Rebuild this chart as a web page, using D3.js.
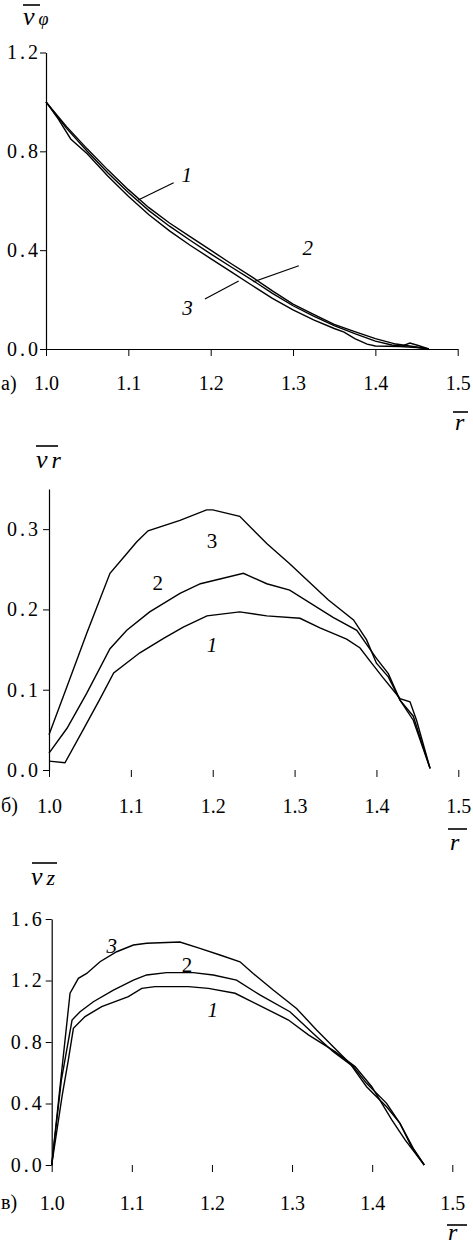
<!DOCTYPE html>
<html>
<head>
<meta charset="utf-8">
<script src="https://cdn.jsdelivr.net/npm/d3@7"></script>
<style>
  body { margin: 0; background: #fff; }
  svg { display: block; }
  svg text { font-family: "Liberation Serif", "Times New Roman", Times, Tinos, "DejaVu Serif", "Noto Serif", serif; }
</style>
</head>
<body>
<div id="body"></div>
<script>
// x ticks shared by all three panels
var rTicks = [1.0, 1.1, 1.2, 1.3, 1.4, 1.5];

// panel a) - v_phi
var phiTicks = [0.0, 0.4, 0.8, 1.2];
var phi1 = [[1.0,1.0],[1.025,0.90],[1.05,0.81],[1.075,0.725],[1.1,0.645],[1.125,0.572],[1.15,0.51],[1.175,0.455],[1.2,0.40],[1.225,0.345],[1.25,0.292],[1.275,0.235],[1.3,0.182],[1.325,0.14],[1.35,0.10],[1.375,0.07],[1.4,0.042],[1.425,0.02],[1.45,0.008],[1.465,0]];
var phi2 = [[1.0,1.0],[1.025,0.893],[1.05,0.80],[1.075,0.713],[1.1,0.633],[1.125,0.56],[1.15,0.497],[1.175,0.44],[1.2,0.385],[1.225,0.332],[1.25,0.28],[1.275,0.225],[1.3,0.175],[1.325,0.133],[1.35,0.095],[1.375,0.062],[1.4,0.032],[1.42,0.016],[1.432,0.012],[1.442,0.024],[1.452,0.014],[1.465,0]];
var phi3 = [[1.0,1.0],[1.015,0.93],[1.03,0.85],[1.05,0.79],[1.075,0.70],[1.1,0.618],[1.125,0.543],[1.15,0.478],[1.175,0.42],[1.2,0.366],[1.225,0.312],[1.25,0.258],[1.275,0.205],[1.3,0.158],[1.325,0.118],[1.35,0.083],[1.362,0.068],[1.375,0.042],[1.39,0.02],[1.4,0.012],[1.43,0.01],[1.45,0.006],[1.465,0]];
var phiNotes = [
  {t:"1", r:1.171, v:0.676, from:[1.112,0.603], to:[1.155,0.673]},
  {t:"2", r:1.318, v:0.380, from:[1.307,0.337], to:[1.252,0.272]},
  {t:"3", r:1.172, v:0.137, from:[1.193,0.202], to:[1.234,0.275]}
];

// panel б) - v_r
var vrTicks = [0.0, 0.1, 0.2, 0.3];
var vr1 = [[1.0,0.011],[1.0195,0.009],[1.042,0.0505],[1.062,0.088],[1.079,0.121],[1.111,0.146],[1.14,0.164],[1.164,0.178],[1.193,0.192],[1.233,0.197],[1.266,0.192],[1.3066,0.189],[1.331,0.177],[1.3636,0.163],[1.38,0.152],[1.392,0.136],[1.408,0.115],[1.4288,0.089],[1.441,0.085],[1.449,0.062],[1.4655,0.002]];
var vr2 = [[1.0,0.021],[1.022,0.052],[1.046,0.0955],[1.0745,0.151],[1.095,0.174],[1.123,0.197],[1.16,0.220],[1.185,0.232],[1.2375,0.245],[1.266,0.232],[1.294,0.224],[1.347,0.19],[1.376,0.174],[1.40,0.139],[1.4145,0.120],[1.4288,0.087],[1.445,0.062],[1.4655,0.002]];
var vr3 = [[1.0,0.044],[1.022,0.104],[1.046,0.170],[1.0745,0.245],[1.092,0.266],[1.107,0.284],[1.121,0.298],[1.16,0.311],[1.1925,0.324],[1.2,0.324],[1.233,0.316],[1.266,0.282],[1.294,0.257],[1.341,0.212],[1.372,0.187],[1.388,0.162],[1.40,0.133],[1.4145,0.116],[1.4288,0.087],[1.445,0.067],[1.4655,0.002]];
var vrNotes = [
  {t:"3", r:1.199, v:0.2765, up:true},
  {t:"2", r:1.133, v:0.2242, up:true},
  {t:"1", r:1.199, v:0.147}
];

// panel в) - v_z
var vzTicks = [0.0, 0.4, 0.8, 1.2, 1.6];
var vz1 = [[1.0,0],[1.013,0.45],[1.0208,0.683],[1.0271,0.889],[1.0416,0.965],[1.0624,1.03],[1.0957,1.095],[1.1124,1.149],[1.129,1.16],[1.1706,1.16],[1.1956,1.149],[1.2289,1.117],[1.2622,1.03],[1.2955,0.943],[1.3204,0.846],[1.3537,0.737],[1.3787,0.640],[1.3995,0.509],[1.4245,0.293],[1.4411,0.163],[1.465,0]];
var vz2 = [[1.0,0],[1.012,0.55],[1.0254,0.943],[1.0354,0.997],[1.052,1.062],[1.077,1.138],[1.102,1.203],[1.1185,1.236],[1.1434,1.251],[1.1767,1.251],[1.2016,1.236],[1.2307,1.203],[1.2598,1.106],[1.2973,0.997],[1.3264,0.856],[1.3514,0.737],[1.3764,0.640],[1.393,0.531],[1.418,0.401],[1.4347,0.271],[1.4513,0.108],[1.465,0]];
var vz3 = [[1.0,0],[1.0104,0.509],[1.0229,1.117],[1.0333,1.214],[1.0437,1.246],[1.0603,1.322],[1.0811,1.387],[1.102,1.431],[1.1185,1.442],[1.16,1.45],[1.185,1.409],[1.21,1.366],[1.235,1.322],[1.2515,1.246],[1.2765,1.138],[1.3056,1.018],[1.3306,0.878],[1.3514,0.769],[1.3722,0.661],[1.393,0.509],[1.418,0.379],[1.4347,0.271],[1.449,0.119],[1.465,0]];
var vzNotes = [
  {t:"3", r:1.075, v:1.379},
  {t:"2", r:1.169, v:1.255, up:true},
  {t:"1", r:1.201, v:0.963}
];

var W = 473, H = 1245;
var serif = "'Liberation Serif', 'Times New Roman', Times, Tinos, 'DejaVu Serif', 'Noto Serif', serif";

var svg = d3.select("#body").append("svg")
  .attr("width", W)
  .attr("height", H)
  .attr("font-family", serif);

svg.append("rect").attr("width", W).attr("height", H).attr("fill", "#fff");

function drawPanel(p){
  var x = d3.scaleLinear().domain([1.0, 1.5]).range([p.left, p.right]);
  var y = d3.scaleLinear().domain([0, p.yMax]).range([p.bottom, p.top]);

  var g = svg.append("g");

  //y axis
  var ya = g.append("g")
    .attr("transform", "translate(" + p.left + ",0)")
    .call(d3.axisLeft(y).tickValues(p.yTicks).tickFormat(d3.format(".1f")).tickSize(6).tickSizeOuter(0));
  ya.attr("font-family", serif);
  ya.select(".domain").attr("stroke", "#000").attr("stroke-width", 1.2);
  ya.selectAll("line").attr("stroke", "#000");
  ya.selectAll("text")
    .attr("x", -p.yLabelGap)
    .attr("font-size", "20px")
    .attr("letter-spacing", "3px")
    .attr("fill", "#000");

  //x axis
  var xa = g.append("g")
    .attr("transform", "translate(0," + p.bottom + ")")
    .call(d3.axisBottom(x).tickValues(rTicks).tickFormat(d3.format(".1f")).tickSize(7).tickSizeOuter(0).tickPadding(p.xPad));
  xa.attr("font-family", serif);
  if (p.xLine) xa.select(".domain").attr("stroke", "#000").attr("stroke-width", 1.2);
  else xa.select(".domain").remove();
  xa.selectAll("line").attr("stroke", "#000");
  xa.selectAll("text")
    .attr("font-size", "20px")
    .attr("fill", "#000");

  //curves
  var line = d3.line().x(function(d){ return x(d[0]); }).y(function(d){ return y(d[1]); });
  g.selectAll("path.curve")
    .data(p.series)
    .enter()
    .append("path")
    .attr("class", "curve")
    .attr("d", line)
    .attr("fill", "none")
    .attr("stroke", "#000")
    .attr("stroke-width", 1.4);

  //curve numbers
  p.notes.forEach(function(n){
    if (n.from) {
      g.append("line")
        .attr("x1", x(n.from[0])).attr("y1", y(n.from[1]))
        .attr("x2", x(n.to[0])).attr("y2", y(n.to[1]))
        .attr("stroke", "#000").attr("stroke-width", 1.2);
    }
    g.append("text")
      .attr("x", x(n.r))
      .attr("y", y(n.v))
      .attr("text-anchor", "middle")
      .attr("font-size", "21px")
      .attr("font-style", n.up ? "normal" : "italic")
      .text(n.t);
  });

  //panel letter
  g.append("text")
    .attr("x", 1)
    .attr("y", p.bottom + p.letterDy)
    .attr("font-size", "20px")
    .text(p.letter);

  //y title with overline
  var yt = g.append("text")
    .attr("x", p.yTitle[0])
    .attr("y", p.yTitle[1])
    .attr("font-style", "italic");
  yt.append("tspan").attr("font-size", "26px").text("v");
  yt.append("tspan").attr("font-size", p.subSize).attr("dx", 4).text(p.sub);
  g.append("line")
    .attr("x1", p.yBar[0]).attr("x2", p.yBar[1])
    .attr("y1", p.yBar[2]).attr("y2", p.yBar[2])
    .attr("stroke", "#000").attr("stroke-width", 1.6);

  //x title r with overline
  g.append("text")
    .attr("x", p.rTitle[0])
    .attr("y", p.rTitle[1])
    .attr("font-size", "24px")
    .attr("font-style", "italic")
    .text("r");
  g.append("line")
    .attr("x1", p.rBar[0]).attr("x2", p.rBar[1])
    .attr("y1", p.rBar[2]).attr("y2", p.rBar[2])
    .attr("stroke", "#000").attr("stroke-width", 1.6);
}

drawPanel({
  left: 46, right: 457.7, bottom: 349, top: 52.5, yMax: 1.2,
  yTicks: phiTicks, yLabelGap: 5, xPad: 20, xLine: true,
  series: [phi1, phi2, phi3], notes: phiNotes,
  letter: "а)", letterDy: 41,
  yTitle: [23, 25], sub: "φ", subSize: "18px", yBar: [23, 40, 5],
  rTitle: [455, 430], rBar: [453, 468, 412]
});

drawPanel({
  left: 49, right: 458.3, bottom: 770, top: 489, yMax: 0.35,
  yTicks: vrTicks, yLabelGap: 8, xPad: 22, xLine: false,
  series: [vr1, vr2, vr3], notes: vrNotes,
  letter: "б)", letterDy: 42,
  yTitle: [36, 468], sub: "r", subSize: "24px", yBar: [36, 58, 446],
  rTitle: [450, 850], rBar: [448, 467, 829]
});

drawPanel({
  left: 51.7, right: 452.3, bottom: 1165, top: 919, yMax: 1.6,
  yTicks: vzTicks, yLabelGap: 7, xPad: 24, xLine: false,
  series: [vz1, vz2, vz3], notes: vzNotes,
  letter: "в)", letterDy: 44,
  yTitle: [31, 885], sub: "z", subSize: "22px", yBar: [32, 57, 863],
  rTitle: [448, 1240], rBar: [447, 467, 1225]
});
</script>
</body>
</html>
